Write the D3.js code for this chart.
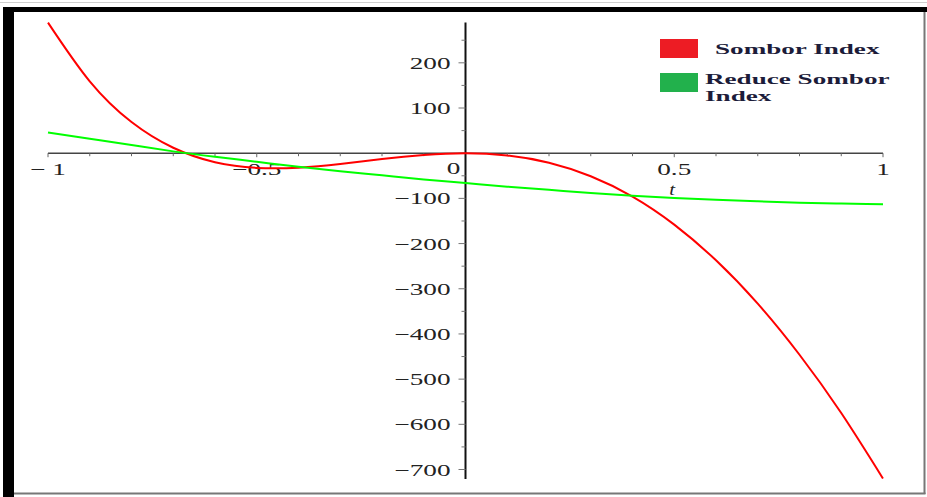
<!DOCTYPE html>
<html>
<head>
<meta charset="utf-8">
<script src="https://cdn.jsdelivr.net/npm/d3@7"></script>
<style>
  html, body { margin: 0; padding: 0; background: #fff; }
  svg { display: block; }
  text { font-family: "Liberation Serif", "DejaVu Serif", serif; }
</style>
</head>
<body>
<svg id="chart" width="927" height="497"></svg>
<script>
// Parameter t sampled across [-1, 1]
const tValues = [-1, -0.9, -0.8, -0.7, -0.6, -0.5, -0.4, -0.3, -0.2, -0.1, 0,
                 0.1, 0.2, 0.3, 0.4, 0.5, 0.6, 0.7, 0.8, 0.9, 1];

// Sombor index as a function of t
const somborIndex = [289, 159, 69, 12, -20, -32.5, -32, -24, -13, -4, 0,
                     -5, -21, -51, -96, -158, -237, -333, -446, -575, -720];

// Reduced Sombor index as a function of t
const reducedSomborIndex = [46, 32, 18, 4, -8, -19, -30, -40, -49, -58, -66,
                            -74, -81, -88, -94, -99, -103, -106.5, -109.5, -111.5, -113];

// Axis tick labels
const xTickValues = [-1, -0.5, 0.5, 1];
const xTickLabels = ["\u2212 1", "\u22120.5", "0.5", "1"];
const yTickValues = [200, 100, -100, -200, -300, -400, -500, -600, -700];
const yTickLabels = ["200", "100", "\u2212100", "\u2212200", "\u2212300", "\u2212400", "\u2212500", "\u2212600", "\u2212700"];

const seriesNames = ["Sombor Index", "Reduce Sombor Index"];
const seriesColors = ["#ff0000", "#00ff00"];
const legendColors = ["#ed1c24", "#22b14c"];

const svg = d3.select("#chart");

// Frame
svg.append("line").attr("x1", 0).attr("x2", 927).attr("y1", 2.5).attr("y2", 2.5)
  .attr("stroke", "#cfcfcf").attr("stroke-width", 1);
svg.append("rect").attr("x", 3).attr("y", 7).attr("width", 924).attr("height", 5).attr("fill", "#000");
svg.append("rect").attr("x", 3).attr("y", 7).attr("width", 11).attr("height", 490).attr("fill", "#000");
svg.append("line").attr("x1", 924.5).attr("x2", 924.5).attr("y1", 12).attr("y2", 494)
  .attr("stroke", "#777").attr("stroke-width", 2);
svg.append("line").attr("x1", 14).attr("x2", 925.5).attr("y1", 493.5).attr("y2", 493.5)
  .attr("stroke", "#777").attr("stroke-width", 2);

const x = d3.scaleLinear().domain([-1, 1]).range([48, 883]);
const y = d3.scaleLinear().domain([-721, 289]).range([479, 22.6]);

const stretch = 1.65;

// x axis line
svg.append("line").attr("x1", x(-1)).attr("x2", x(1)).attr("y1", y(0)).attr("y2", y(0))
  .attr("stroke", "#444").attr("stroke-width", 1.5);
// x ticks
const xMinor = d3.range(-10, 11).map(d => d / 10);
svg.selectAll(".xtick").data(xMinor).enter().append("line")
  .attr("x1", d => x(d)).attr("x2", d => x(d))
  .attr("y1", y(0)).attr("y2", d => y(0) + (Math.abs(d * 2 - Math.round(d * 2)) < 1e-9 ? 4 : 3))
  .attr("stroke", "#666").attr("stroke-width", 1);

// y axis line
svg.append("line").attr("x1", x(0)).attr("x2", x(0)).attr("y1", y(289)).attr("y2", y(-721))
  .attr("stroke", "#111").attr("stroke-width", 2);
const yMinor = d3.range(-700, 300, 50);
svg.selectAll(".ytick").data(yMinor).enter().append("line")
  .attr("x1", d => x(0) - (d % 100 === 0 ? 7 : 4)).attr("x2", x(0))
  .attr("y1", d => y(d)).attr("y2", d => y(d))
  .attr("stroke", "#777").attr("stroke-width", 1);

// y tick labels
svg.selectAll(".ylabel").data(yTickValues).enter().append("text")
  .attr("transform", d => `translate(${x(0) - 15},${y(d) + 6}) scale(${stretch},1)`)
  .attr("text-anchor", "end").attr("font-size", 16.5).attr("fill", "#222")
  .text((d, i) => yTickLabels[i]);

// x tick labels
svg.selectAll(".xlabel").data(xTickValues).enter().append("text")
  .attr("transform", d => `translate(${x(d)},${y(0) + 22}) scale(${stretch},1)`)
  .attr("text-anchor", "middle").attr("font-size", 16.5).attr("fill", "#222")
  .text((d, i) => xTickLabels[i]);

// origin label
svg.append("text")
  .attr("transform", `translate(${x(0) - 12},${y(0) + 21}) scale(${stretch},1)`)
  .attr("text-anchor", "middle").attr("font-size", 16.5).attr("fill", "#222").text("0");

// axis title
svg.append("text")
  .attr("transform", `translate(${x(0.5) - 2},${y(0) + 42}) scale(1.3,1)`)
  .attr("text-anchor", "middle").attr("font-size", 16).attr("font-style", "italic")
  .attr("fill", "#222").text("t");

// curves
const line = d3.line().x(d => x(d[0])).y(d => y(d[1])).curve(d3.curveNatural);
[somborIndex, reducedSomborIndex].forEach((vals, i) => {
  svg.append("path")
    .datum(tValues.map((t, j) => [t, vals[j]]))
    .attr("d", line).attr("fill", "none")
    .attr("stroke", seriesColors[i]).attr("stroke-width", 2);
});

// legend
const legend = svg.append("g");
legend.append("rect").attr("x", 660).attr("y", 39).attr("width", 38).attr("height", 19).attr("fill", legendColors[0]);
legend.append("rect").attr("x", 660).attr("y", 73).attr("width", 38).attr("height", 19).attr("fill", legendColors[1]);
legend.append("text")
  .attr("transform", `translate(715,54) scale(1.75,1)`)
  .attr("font-size", 15.5).attr("font-weight", "bold").attr("fill", "#1c1c3a")
  .text(seriesNames[0]);
const t2 = legend.append("text")
  .attr("transform", `translate(705,84) scale(1.75,1)`)
  .attr("font-size", 15.5).attr("font-weight", "bold").attr("fill", "#1c1c3a");
t2.append("tspan").attr("x", 0).attr("y", 0).text("Reduce Sombor");
t2.append("tspan").attr("x", 0).attr("y", 17).text("Index");
</script>
</body>
</html>
